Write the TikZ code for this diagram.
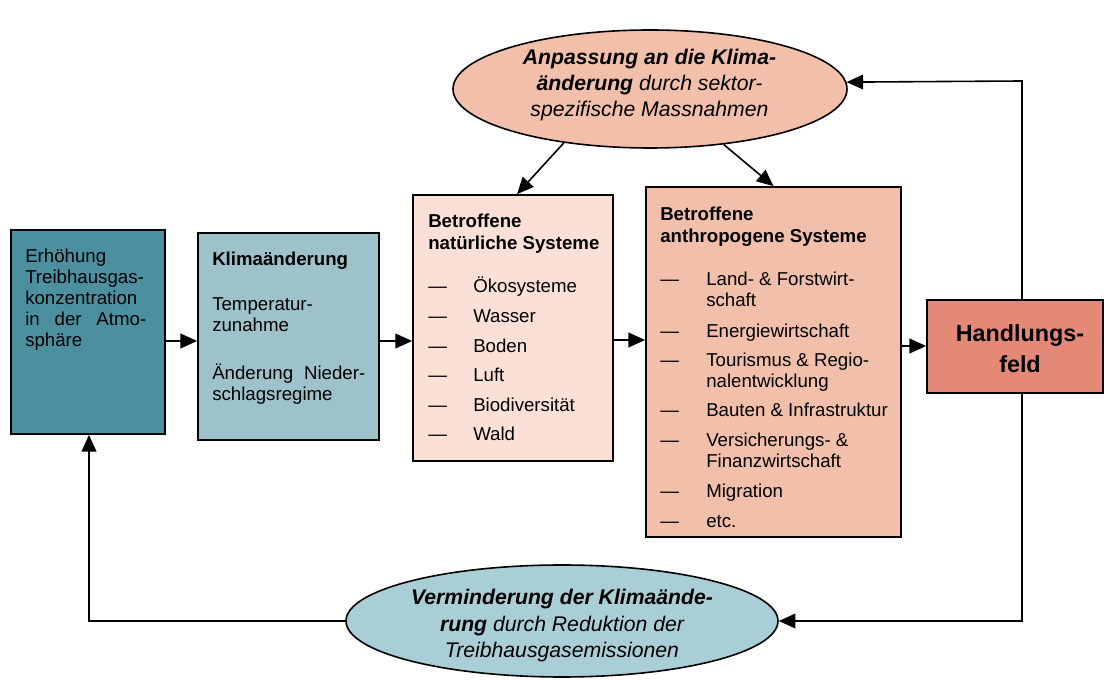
\documentclass[tikz,border=0pt]{standalone}
\usepackage{fontspec}
\setmainfont{Liberation Sans}
\usetikzlibrary{arrows.meta,shapes.geometric}
\definecolor{cA}{HTML}{4C909F}
\definecolor{cB}{HTML}{9DC2CA}
\definecolor{cC}{HTML}{FAE0D6}
\definecolor{cD}{HTML}{F2BFAA}
\definecolor{cE}{HTML}{E48878}
\definecolor{cF}{HTML}{AACED5}
\tikzset{
  box/.style={draw=black, line width=1.3pt, rectangle, inner sep=0pt},
  ell/.style={draw=black, line width=1.2pt, ellipse, inner sep=0pt},
  body/.style={font=\fontsize{14}{16}\selectfont, inner sep=0pt, anchor=base west},
  bodyb/.style={body, font=\fontsize{14}{16}\selectfont\bfseries},
  elltxt/.style={font=\fontsize{15.9}{19}\selectfont\itshape, inner sep=0pt, anchor=base},
  handtxt/.style={font=\fontsize{17.5}{21}\selectfont\bfseries, inner sep=0pt, anchor=base},
  arr/.style={line width=1.2pt, -{Triangle[length=12.5pt,width=11pt]}},
}
\begin{document}
\begin{tikzpicture}[x=0.75pt,y=-0.75pt]
\useasboundingbox (0,0) rectangle (1104,680);
\fill[white] (0,0) rectangle (1104,680);

% boxes
\node[box, fill=cA, minimum width=115.5pt, minimum height=153pt] (b1) at (88,332) {};
\node[box, fill=cB, minimum width=135.75pt, minimum height=155.25pt] (b2) at (288.5,336.5) {};
\node[box, fill=cC, minimum width=150pt, minimum height=199.5pt] (b3) at (513,328) {};
\node[box, fill=cD, minimum width=191.25pt, minimum height=262.5pt] (b4) at (773.5,362) {};
\node[box, fill=cE, minimum width=132pt, minimum height=69.75pt] (b5) at (1015,346.5) {};
\node[ell, fill=cD, minimum width=295.5pt, minimum height=88.5pt] (top) at (650,89) {};
\node[ell, fill=cF, minimum width=324pt, minimum height=84pt] (bot) at (562,621) {};

% box 1 text
\node[body] (a1) at (25,263) {Erhöhung};
\node[body] (a2) at (25,284) {Treibhausgas-};
\node[body] (a3) at (25,305) {konzentration};
\node[body] (a4) at (25,326) {\makebox[90.75pt][s]{in der Atmo-}};
\node[body] (a5) at (25,347) {sphäre};

% box 2 text
\node[bodyb] (k1) at (212,266) {Klimaänderung};
\node[body] (k2) at (212,311) {Temperatur-};
\node[body] (k3) at (212,332) {zunahme};
\node[body] (k4) at (212,380) {\makebox[114.75pt][s]{Änderung Nieder-}};
\node[body] (k5) at (212,401) {schlagsregime};

% box 3 text
\node[bodyb] (n1) at (428,228) {Betroffene};
\node[bodyb] (n2) at (428,250) {natürliche Systeme};
\foreach \t/\y [count=\i] in {Ökosysteme/293, Wasser/322.6, Boden/352.2, Luft/381.8, Biodiversität/411.4, Wald/441}{
  \node[body] (nd\i) at (428,\y) {—};
  \node[body] (ni\i) at (473,\y) {\t};
}

% box 4 text
\node[bodyb] (m1) at (660,221) {Betroffene};
\node[bodyb] (m2) at (660,243) {anthropogene Systeme};
\foreach \y [count=\i] in {286,338,367,417,447,498,528}{
  \node[body] (md\i) at (660,\y) {—};
}
\foreach \t/\y [count=\i] in {{Land- \& Forstwirt-}/286, schaft/307, Energiewirtschaft/338, {Tourismus \& Regio-}/367, nalentwicklung/388, {Bauten \& Infrastruktur}/417, {Versicherungs- \&}/447, Finanzwirtschaft/468, Migration/498, etc./528}{
  \node[body] (mi\i) at (706,\y) {\t};
}

% box 5 text
\node[handtxt] (h1) at (1020,342) {Handlungs-};
\node[handtxt] (h2) at (1020,373) {feld};

% top ellipse text
\node[elltxt] (e1) at (649.5,65) {\textbf{Anpassung an die Klima-}};
\node[elltxt] (e2) at (649.5,91) {\textbf{änderung} durch sektor-};
\node[elltxt] (e3) at (649.5,117) {spezifische Massnahmen};

% bottom ellipse text
\node[elltxt] (v1) at (562,605) {\textbf{Verminderung der Klimaände-}};
\node[elltxt] (v2) at (562,631.5) {\textbf{rung} durch Reduktion der};
\node[elltxt] (v3) at (562,658) {Treibhausgasemissionen};

% connectors
\draw[arr] (b1.east |- 0,341) -- (b2.west |- 0,341);
\draw[arr] (b2.east |- 0,341) -- (b3.west |- 0,341);
\draw[arr] (b3.east |- 0,340) -- (b4.west |- 0,340);
\draw[arr] (b4.east |- 0,346) -- (b5.west |- 0,346);

\draw[arr] (top.212) -- ([xshift=3pt]b3.north);
\draw[arr] (top.-37) -- (b4.north);

\coordinate (tr) at (1022,81);
\coordinate (br) at (1022,621);
\coordinate (bl) at (89,621);
\draw[arr] (tr |- b5.north) -- (tr) -- (top.2);
\draw[arr] (br |- b5.south) -- (br) -- (bot.east);
\draw[arr] (bot.west) -- (bl) -- (bl |- b1.south);
\end{tikzpicture}
\end{document}
